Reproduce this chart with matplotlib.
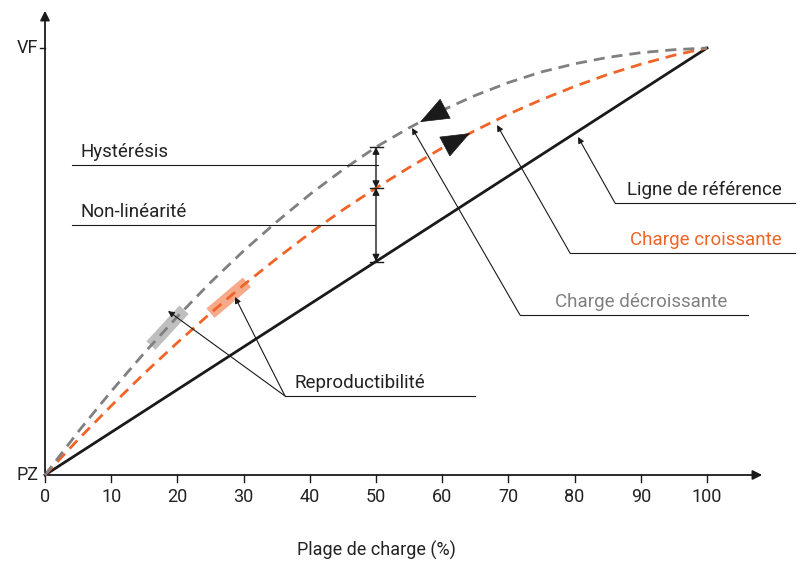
import matplotlib
matplotlib.use("Agg")
import matplotlib.pyplot as plt
import numpy as np

plt.rcParams['font.family'] = ['Roboto', 'DejaVu Sans']

charge = [0, 5, 10, 15, 20, 25, 30, 35, 40, 45, 50, 55, 60, 65, 70, 75, 80, 85, 90, 95, 100]
reference = [0, 5, 10, 15, 20, 25, 30, 35, 40, 45, 50, 55, 60, 65, 70, 75, 80, 85, 90, 95, 100]
croissante = [0, 8.3, 16.2, 23.8, 31.0, 37.9, 44.5, 50.7, 56.6, 62.1, 67.2, 72.0, 76.6, 80.7, 84.5, 87.9, 91.0, 93.8, 96.2, 98.3, 100]
decroissante = [0, 10.1, 19.6, 28.6, 37.1, 45.1, 52.5, 59.3, 65.7, 71.5, 76.8, 81.3, 85.4, 88.9, 91.9, 94.4, 96.3, 97.8, 98.9, 99.6, 100]
xticks = [0, 10, 20, 30, 40, 50, 60, 70, 80, 90, 100]

GRAY = '#808080'; ORANGE = '#f06428'; DARK = '#1a1a1a'

def X(px): return (px - 45) / 6.62
def Y(py): return (475 - py) / 4.27

fig = plt.figure(figsize=(8.1, 5.75), dpi=100)
ax = fig.add_axes([0, 0, 1, 1])
ax.set_xlim(X(0), X(810)); ax.set_ylim(Y(575), Y(0))
ax.axis('off')

ax.annotate('', xy=(X(765), 0), xytext=(X(45), 0),
            arrowprops=dict(arrowstyle='-|>', color=DARK, lw=1.3, mutation_scale=14))
ax.annotate('', xy=(0, Y(8)), xytext=(0, 0),
            arrowprops=dict(arrowstyle='-|>', color=DARK, lw=1.3, mutation_scale=14))
for t in xticks:
    ax.plot([t, t], [0, Y(482)], color=DARK, lw=1)
    ax.text(t, Y(488), str(t), ha='center', va='top', fontsize=13, color='#222')
ax.text(X(38), 0, 'PZ', ha='right', va='center', fontsize=13, color='#222')
ax.text(X(38), 100, 'VF', ha='right', va='center', fontsize=13, color='#222')
ax.plot([X(40), 0], [100, 100], color=DARK, lw=1)
ax.text(50, Y(550), 'Plage de charge (%)', ha='center', va='center', fontsize=13, color='#222')

ax.plot(charge, reference, color=DARK, lw=2)
ax.plot(charge, croissante, color=ORANGE, lw=2, dashes=(4, 2.5))
ax.plot(charge, decroissante, color=GRAY, lw=2, dashes=(4, 2.5))

ci = np.array(charge)
ax.plot([16, 21], [np.interp(16, ci, decroissante), np.interp(21, ci, decroissante)],
        color=GRAY, lw=9, alpha=0.5, solid_capstyle='butt')
ax.plot([25, 30.5], [np.interp(25, ci, croissante), np.interp(30.5, ci, croissante)],
        color=ORANGE, lw=9, alpha=0.55, solid_capstyle='butt')

def head(x_tip, x_tail, series):
    ax.annotate('', xy=(X(x_tip), np.interp(X(x_tip), ci, series)),
                xytext=(X(x_tail), np.interp(X(x_tail), ci, series)),
                arrowprops=dict(arrowstyle='-|>,head_length=0.9,head_width=0.35', color=DARK,
                                lw=0.5, mutation_scale=22, shrinkA=0, shrinkB=0))
head(420, 440, decroissante)
head(470, 452, croissante)

g50 = np.interp(50, ci, decroissante); o50 = np.interp(50, ci, croissante); r50 = 50
for a, b in [(g50, o50), (o50, r50)]:
    ax.annotate('', xy=(50, a), xytext=(50, b),
                arrowprops=dict(arrowstyle='<|-|>', color=DARK, lw=1, mutation_scale=10,
                                shrinkA=0, shrinkB=0))
for v in (g50, o50, r50):
    ax.plot([X(370), X(383)], [v, v], color=DARK, lw=1)

kw = dict(fontsize=13.5, va='bottom')
ax.text(X(80), Y(161), 'Hystérésis', color='#222', **kw)
ax.plot([X(72), X(378)], [Y(165), Y(165)], color=DARK, lw=0.8)
ax.text(X(80), Y(221), 'Non-linéarité', color='#222', **kw)
ax.plot([X(72), X(375)], [Y(225), Y(225)], color=DARK, lw=0.8)

def leader(x0, x1, y, tx, tip, text, color):
    ax.text(X(tx), Y(y - 4), text, color=color, **kw)
    ax.plot([X(x0), X(x1)], [Y(y), Y(y)], color=DARK, lw=0.8)
    for t in tip:
        ax.annotate('', xy=(X(t[0]), Y(t[1])), xytext=(X(x0), Y(y)),
                    arrowprops=dict(arrowstyle='-|>', color=DARK, lw=0.8, mutation_scale=9,
                                    shrinkA=0, shrinkB=0))

leader(615, 795, 203, 627, [(578, 137)], 'Ligne de référence', '#222')
leader(570, 795, 253, 630, [(497, 125)], 'Charge croissante', ORANGE)
leader(520, 748, 315, 555, [(412, 128)], 'Charge décroissante', GRAY)
leader(285, 475, 396, 295, [(168, 311), (235, 297)], 'Reproductibilité', '#222')

fig.savefig('out.png', dpi=100)
